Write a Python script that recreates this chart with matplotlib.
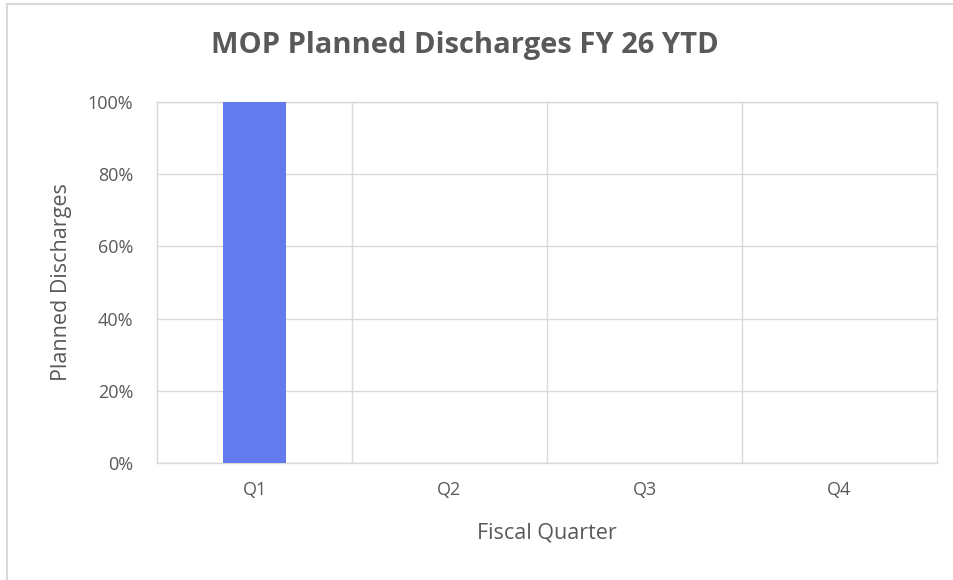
import matplotlib.pyplot as plt
from matplotlib.patches import Rectangle
from matplotlib.ticker import PercentFormatter

quarters = ["Q1", "Q2", "Q3", "Q4"]
planned = [1.0, 0.0, 0.0, 0.0]
yticks = [0.0, 0.2, 0.4, 0.6, 0.8, 1.0]

plt.rcParams['font.family'] = ['Open Sans', 'DejaVu Sans']
TXT = '#595959'
GRID = '#d9d9d9'

W, H = 954, 580
fig = plt.figure(figsize=(W / 100, H / 100), dpi=100)

# chart frame (left/top edges visible)
fig.patches.append(Rectangle((7 / W, -0.01), 1.0, 1 - 4 / H + 0.01,
                             transform=fig.transFigure, fill=False,
                             edgecolor=GRID, lw=1.5))

ax = fig.add_axes([157 / W, 1 - 463 / H, (937 - 157) / W, (463 - 102) / H])
x = range(len(quarters))
ax.bar(x, planned, width=0.32, color='#637bef', zorder=3)

ax.set_xlim(-0.5, 3.5)
ax.set_ylim(0, 1)
ax.set_yticks(yticks)
ax.yaxis.set_major_formatter(PercentFormatter(1.0, decimals=0))
ax.set_xticks(list(x))
ax.set_xticklabels(quarters)
ax.set_xticks([0.5, 1.5, 2.5], minor=True)

ax.grid(axis='y', color=GRID, lw=1)
ax.grid(axis='x', which='minor', color=GRID, lw=1)
for s in ax.spines.values():
    s.set_color(GRID)
    s.set_linewidth(1)
ax.tick_params(which='both', length=0, colors=TXT, labelsize=13)
ax.tick_params(axis='y', pad=17)
ax.tick_params(axis='x', pad=13)

ax.set_xlabel("Fiscal Quarter", color=TXT, fontsize=15.5, labelpad=17)
ax.set_ylabel("Planned Discharges", color=TXT, fontsize=15.5, labelpad=11)
fig.text(465 / W, 1 - 46 / H, "MOP Planned Discharges FY 26 YTD",
         ha='center', va='center', fontsize=21, fontweight='bold', color=TXT)

fig.savefig("out.png", dpi=100)
